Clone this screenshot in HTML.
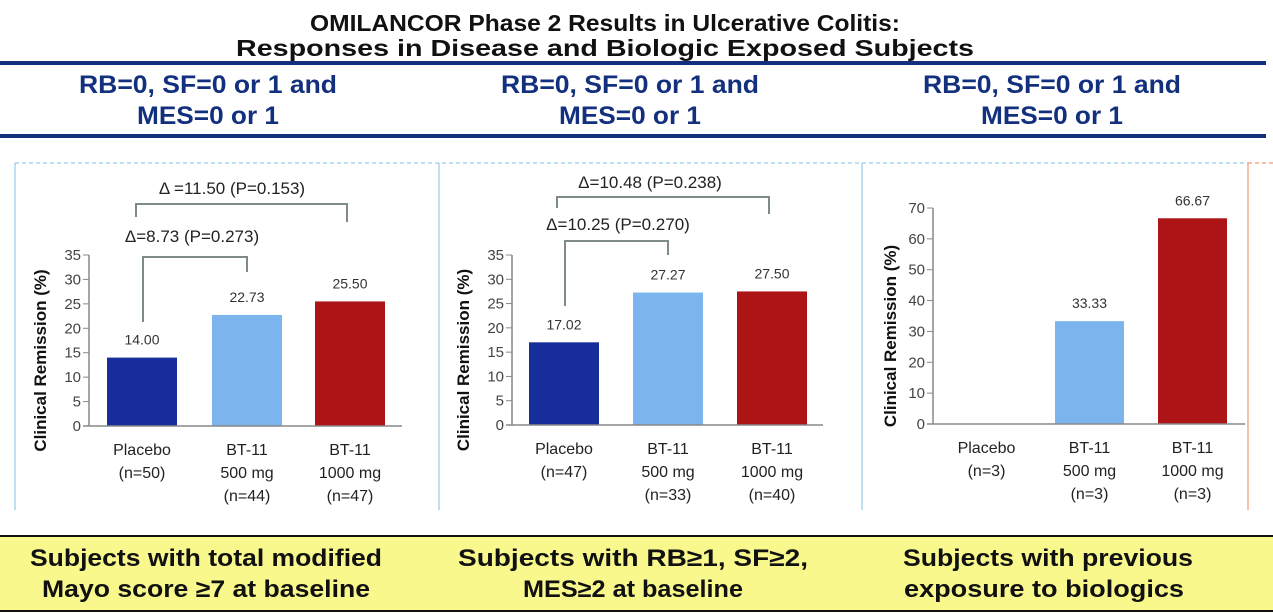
<!DOCTYPE html>
<html><head><meta charset="utf-8"><style>
html,body{margin:0;padding:0;background:#fff;}
svg{display:block;font-family:"Liberation Sans",Arial,sans-serif;}
</style></head><body>
<svg id="s" width="1273" height="613" viewBox="0 0 1273 613">
<g font-weight="bold" font-size="23" fill="#111" text-anchor="middle">
<text x="605" y="31" textLength="590" lengthAdjust="spacingAndGlyphs">OMILANCOR Phase 2 Results in Ulcerative Colitis:</text>
<text x="605" y="56" textLength="738" lengthAdjust="spacingAndGlyphs">Responses in Disease and Biologic Exposed Subjects</text>
</g>
<rect x="0" y="61" width="1266" height="4" fill="#13307f"/>
<rect x="0" y="134" width="1266" height="4" fill="#13307f"/>
<g font-weight="bold" font-size="25" fill="#13307f" text-anchor="middle">
<text x="208" y="93" textLength="258" lengthAdjust="spacingAndGlyphs">RB=0, SF=0 or 1 and</text>
<text x="208" y="124" textLength="142" lengthAdjust="spacingAndGlyphs">MES=0 or 1</text>
<text x="630" y="93" textLength="258" lengthAdjust="spacingAndGlyphs">RB=0, SF=0 or 1 and</text>
<text x="630" y="124" textLength="142" lengthAdjust="spacingAndGlyphs">MES=0 or 1</text>
<text x="1052" y="93" textLength="258" lengthAdjust="spacingAndGlyphs">RB=0, SF=0 or 1 and</text>
<text x="1052" y="124" textLength="142" lengthAdjust="spacingAndGlyphs">MES=0 or 1</text>
</g>
<g stroke-width="1">
<line x1="15" y1="163" x2="1248" y2="163" stroke="#7fbfe8" stroke-dasharray="4,3"/>
<line x1="1248" y1="163" x2="1273" y2="163" stroke="#f08050" stroke-dasharray="4,3"/>
<line x1="15" y1="163" x2="15" y2="510" stroke="#7fbfe8"/>
<line x1="439" y1="163" x2="439" y2="510" stroke="#7fbfe8"/>
<line x1="862" y1="163" x2="862" y2="510" stroke="#7fbfe8"/>
<line x1="1248" y1="163" x2="1248" y2="510" stroke="#f08050"/>
</g>
<g id="charts"></g>
<rect x="0" y="535" width="1273" height="77" fill="#f8f88c"/>
<line x1="0" y1="536" x2="1273" y2="536" stroke="#111" stroke-width="2"/>
<line x1="0" y1="611" x2="1273" y2="611" stroke="#111" stroke-width="2"/>
<g font-weight="bold" font-size="24" fill="#111" text-anchor="middle">
<text x="206" y="566" textLength="352" lengthAdjust="spacingAndGlyphs">Subjects with total modified</text>
<text x="206" y="597" textLength="328" lengthAdjust="spacingAndGlyphs">Mayo score ≥7 at baseline</text>
<text x="633" y="566" textLength="350" lengthAdjust="spacingAndGlyphs">Subjects with RB≥1, SF≥2,</text>
<text x="633" y="597" textLength="220" lengthAdjust="spacingAndGlyphs">MES≥2 at baseline</text>
<text x="1048" y="566" textLength="290" lengthAdjust="spacingAndGlyphs">Subjects with previous</text>
<text x="1044" y="597" textLength="280" lengthAdjust="spacingAndGlyphs">exposure to biologics</text>
</g>
</svg>
<script>
const p1Values=[14.00,22.73,25.50];
const p2Values=[17.02,27.27,27.50];
const p3Values=[0,33.33,66.67];
const p1Labels=[["Placebo","(n=50)"],["BT-11","500 mg","(n=44)"],["BT-11","1000 mg","(n=47)"]];
const p2Labels=[["Placebo","(n=47)"],["BT-11","500 mg","(n=33)"],["BT-11","1000 mg","(n=40)"]];
const p3Labels=[["Placebo","(n=3)"],["BT-11","500 mg","(n=3)"],["BT-11","1000 mg","(n=3)"]];
const p1Ticks=[0,5,10,15,20,25,30,35];
const p2Ticks=[0,5,10,15,20,25,30,35];
const p3Ticks=[0,10,20,30,40,50,60,70];
const p1Deltas=["Δ=8.73 (P=0.273)","Δ =11.50 (P=0.153)"];
const p2Deltas=["Δ=10.25 (P=0.270)","Δ=10.48 (P=0.238)"];
const colors=["#172d9a","#7cb5ee","#ad1416"];
const NS="http://www.w3.org/2000/svg";
const root=document.getElementById('charts');
function mk(tag,attrs,parent,txt){const e=document.createElementNS(NS,tag);for(const k in attrs)e.setAttribute(k,attrs[k]);if(txt!==undefined)e.textContent=txt;parent.appendChild(e);return e;}
const panels=[
 {id:1,vals:p1Values,labels:p1Labels,ticks:p1Ticks,ax:89,axEnd:402,y0:426,yTop:255,bx:[107,212,315],bw:70,titleX:40,deltas:p1Deltas,
  br:[{y:257,lx:143,ly:322,rx:247,ry:272,tx:192,ty:242},{y:204,lx:136,ly:217,rx:347,ry:222,tx:232,ty:194}]},
 {id:2,vals:p2Values,labels:p2Labels,ticks:p2Ticks,ax:512,axEnd:823,y0:425,yTop:255,bx:[529,633,737],bw:70,titleX:463,deltas:p2Deltas,
  br:[{y:241,lx:565,ly:306,rx:668,ry:255,tx:618,ty:230},{y:197,lx:557,ly:208,rx:769,ry:214,tx:650,ty:188}]},
 {id:3,vals:p3Values,labels:p3Labels,ticks:p3Ticks,ax:933,axEnd:1245,y0:424,yTop:208,bx:[952,1055,1158],bw:69,titleX:890,deltas:null,br:[]}
];
panels.forEach(p=>{
 const g=mk('g',{},root);
 
 
 const tmax=p.ticks[p.ticks.length-1];
 const y=v=>p.y0-(v/tmax)*(p.y0-p.yTop);
 p.ticks.forEach(t=>{
  const l=mk('line',{x1:p.ax-6,x2:p.ax,y1:y(t),y2:y(t),stroke:'#888'},g);
  
  
  const tx=mk('text',{x:p.ax-8,y:y(t)+5,'text-anchor':'end','font-size':'15',fill:'#444'},g,String(t));
  
  
 });
 const ya=mk('line',{x1:p.ax,x2:p.ax,y1:p.yTop,y2:p.y0,stroke:'#888','stroke-width':'1.5'},g);
 
 
 p.vals.forEach((v,i)=>{
  const r=mk('rect',{x:p.bx[i],y:y(v),width:p.bw,height:p.y0-y(v),fill:colors[i]},g);
  
  
  if(v>0){
   const vl=mk('text',{x:p.bx[i]+p.bw/2,y:y(v)-13,'text-anchor':'middle','font-size':'14',fill:'#333'},g,v.toFixed(2));
   
   
  }
  p.labels[i].forEach((s,j)=>{
   const cl=mk('text',{x:p.bx[i]+p.bw/2,y:p.y0+29+j*23,'text-anchor':'middle','font-size':'16',fill:'#222'},g,s);
   
   
  });
 });
 const xa=mk('line',{x1:p.ax-6,x2:p.axEnd,y1:p.y0,y2:p.y0,stroke:'#888','stroke-width':'1.5'},g);
 
 
 const yt=mk('text',{x:0,y:0,'text-anchor':'middle','font-size':'17','font-weight':'bold',fill:'#111',transform:'translate('+(p.titleX+6)+','+((p.yTop+p.y0)/2+20)+') rotate(-90)'},g,'Clinical Remission (%)');
 
 
 p.br.forEach((b,k)=>{
  const pl=mk('polyline',{points:b.lx+','+b.ly+' '+b.lx+','+b.y+' '+b.rx+','+b.y+' '+b.rx+','+b.ry,fill:'none',stroke:'#7f8a8a','stroke-width':'2'},g);
  
  
  const dt=mk('text',{x:b.tx,y:b.ty,'text-anchor':'middle','font-size':'17',fill:'#222'},g,p.deltas[k]);
  
  
 });
});
</script>
</body></html>
